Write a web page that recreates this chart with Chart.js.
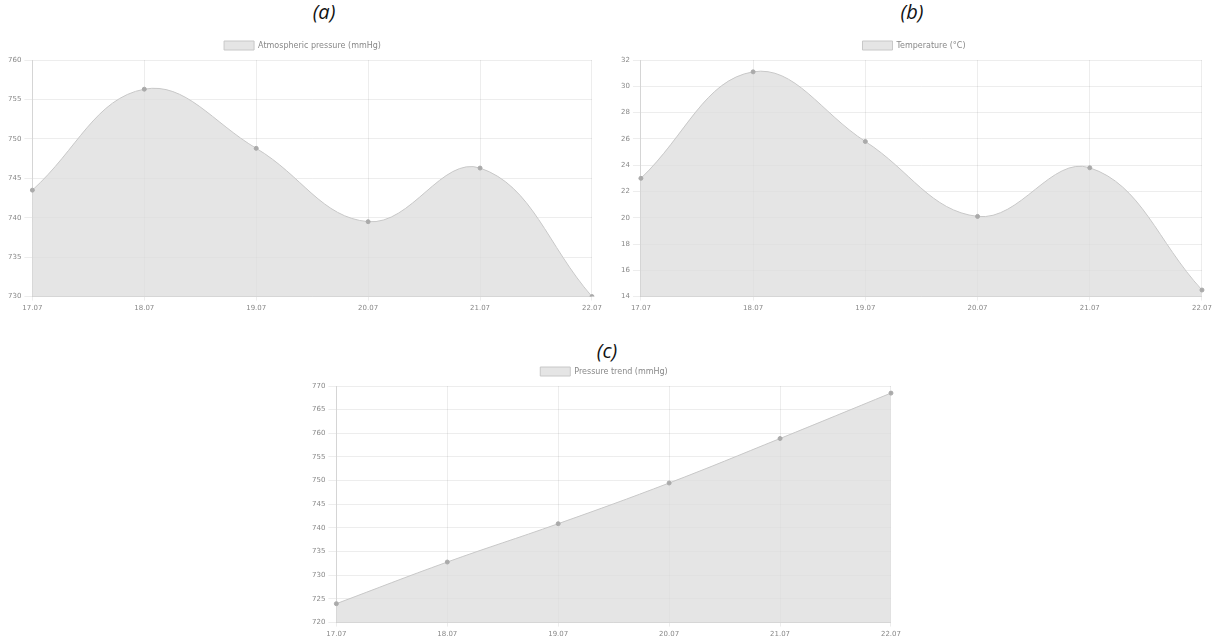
<!DOCTYPE html>
<html>
<head>
<meta charset="utf-8">
<script src="https://cdn.jsdelivr.net/npm/chart.js@4"></script>
<style>
  body { margin: 0; background: #fff; width: 1215px; height: 641px; overflow: hidden; font-family: 'Open Sans', sans-serif; }
  .cap { position: absolute; font-style: italic; font-size: 20px; color: #111; transform: translateX(-50%); }
  .box { position: absolute; }
</style>
</head>
<body>
<div class="cap" style="left:324px; top:-2px;">(a)</div>
<div class="cap" style="left:912px; top:-2px;">(b)</div>
<div class="cap" style="left:607px; top:337px;">(c)</div>
<div class="box" style="left:5px; top:35px; width:600px; height:280px;"><canvas id="chartA"></canvas></div>
<div class="box" style="left:618px; top:35px; width:597px; height:280px;"><canvas id="chartB"></canvas></div>
<div class="box" style="left:309px; top:361px; width:595px; height:280px;"><canvas id="chartC"></canvas></div>
<script>
'use strict';

const days = ['17.07', '18.07', '19.07', '20.07', '21.07', '22.07'];

const pressureLabel = 'Atmospheric pressure (mmHg)';
const pressureValues = [743.5, 756.3, 748.8, 739.5, 746.3, 730];

const tempLabel = 'Temperature (°C)';
const tempValues = [23.0, 31.1, 25.8, 20.1, 23.8, 14.5];

const trendLabel = 'Pressure trend (mmHg)';
const trendValues = [724.0, 732.8, 740.9, 749.5, 758.9, 768.5];

const FONT = "'DejaVu Sans', sans-serif";

function lineChart(id, label, values, yMin, yMax, step) {
    const ctx = document.getElementById(id);
    return new Chart(ctx, {
        type: 'line',
        data: {
            labels: days,
            datasets: [{
                label,
                data: values,
                fill: true,
                backgroundColor: 'rgba(220,220,220,0.75)',
                borderColor: 'rgba(200,200,200,1)',
                borderWidth: 1,
                pointRadius: 2,
                pointBackgroundColor: 'rgba(170,170,170,1)',
                pointBorderColor: 'rgba(170,170,170,1)',
                tension: 0.4,
            }],
        },
        options: {
            responsive: true,
            maintainAspectRatio: false,
            animation: false,
            layout: { padding: { left: 0, right: 5, top: 0, bottom: 0 } },
            plugins: {
                legend: {
                    position: 'top',
                    labels: {
                        font: { family: FONT, size: 8 },
                        color: '#888',
                        boxWidth: 30,
                        boxHeight: 9,
                        padding: 6,
                    },
                },
                tooltip: { enabled: false },
            },
            scales: {
                x: {
                    grid: { color: 'rgba(0,0,0,0.07)', tickLength: 4 },
                    ticks: { font: { family: FONT, size: 7 }, color: '#888', maxRotation: 0 },
                },
                y: {
                    min: yMin,
                    max: yMax,
                    grid: { color: 'rgba(0,0,0,0.07)' },
                    ticks: { stepSize: step, font: { family: FONT, size: 7 }, color: '#888' },
                },
            },
        },
    });
}

lineChart('chartA', pressureLabel, pressureValues, 730, 760, 5);
lineChart('chartB', tempLabel, tempValues, 14, 32, 2);
lineChart('chartC', trendLabel, trendValues, 720, 770, 5);
</script>
</body>
</html>
